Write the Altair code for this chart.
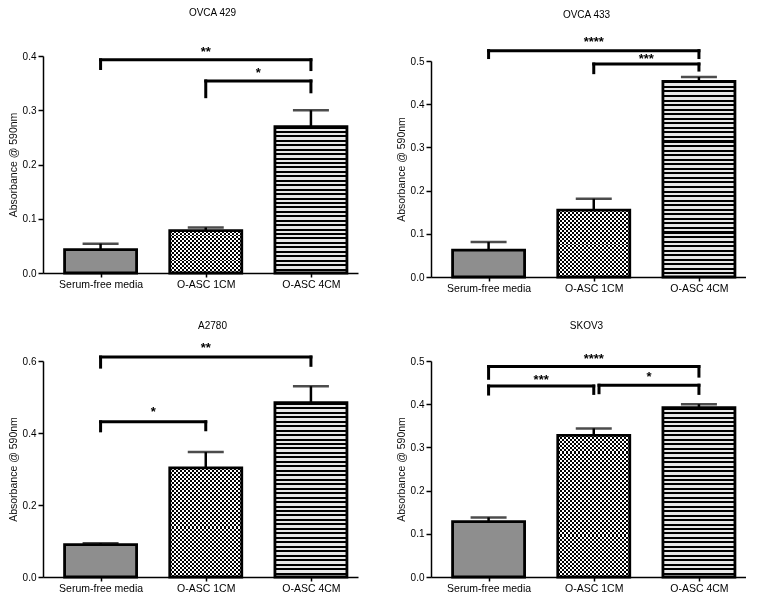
import json
import altair as alt
import pandas as pd

categories = ["Serum-free media", "O-ASC 1CM", "O-ASC 4CM"]
cat_index = [0, 1, 2]

panel_titles = ["OVCA 429", "OVCA 433", "A2780", "SKOV3"]

ovca429_mean = [0.043, 0.078, 0.270]
ovca429_sem = [0.011, 0.006, 0.030]
ovca433_mean = [0.062, 0.155, 0.453]
ovca433_sem = [0.019, 0.026, 0.010]
a2780_mean = [0.090, 0.303, 0.484]
a2780_sem = [0.004, 0.044, 0.046]
skov3_mean = [0.128, 0.328, 0.392]
skov3_sem = [0.010, 0.016, 0.008]

y_max = [0.4, 0.5, 0.6, 0.5]
y_ticks = [
    [0.0, 0.1, 0.2, 0.3, 0.4],
    [0.0, 0.1, 0.2, 0.3, 0.4, 0.5],
    [0.0, 0.2, 0.4, 0.6],
    [0.0, 0.1, 0.2, 0.3, 0.4, 0.5],
]

# significance brackets: from group, to group, bracket level, left foot, right foot, stars, star level
ovca429_brackets = [
    (0, 2, 0.393, 0.377, 0.375, "**", 0.411),
    (1, 2, 0.354, 0.325, 0.334, "*", 0.372),
]
ovca433_brackets = [
    (0, 2, 0.524, 0.508, 0.508, "****", 0.549),
    (1, 2, 0.493, 0.473, 0.479, "***", 0.510),
]
a2780_brackets = [
    (0, 2, 0.611, 0.583, 0.588, "**", 0.641),
    (0, 1, 0.431, 0.406, 0.409, "*", 0.465),
]
skov3_brackets = [
    (0, 2, 0.487, 0.460, 0.465, "****", 0.510),
    (0, 1, 0.442, 0.4235, 0.425, "***", 0.460),
    (1.05, 2, 0.444, 0.4266, 0.425, "*", 0.4675),
]

FONT = "Liberation Sans"
BAR_W = 72
label_expr = json.dumps(categories) + "[datum.value]"


def stripes(length_px, period, dark_frac, dark, light, along_y=True):
    n = max(1, round(length_px / period))
    stops = []
    for k in range(n):
        a = k / n
        b = (k + dark_frac) / n
        c = (k + 1) / n
        stops += [
            alt.GradientStop(offset=a, color=dark),
            alt.GradientStop(offset=b, color=dark),
            alt.GradientStop(offset=b, color=light),
            alt.GradientStop(offset=min(c, 1.0), color=light),
        ]
    if along_y:
        return alt.LinearGradient(gradient="linear", stops=stops, x1=0, x2=0, y1=0, y2=1)
    return alt.LinearGradient(gradient="linear", stops=stops, x1=0, x2=1, y1=0, y2=0)


def panel(title, means, sems, brackets, ymax, ticks, height, yrange, t_offset, t_dx):
    df = pd.DataFrame({
        "cat": categories,
        "idx": cat_index,
        "mean": means,
        "top": [m + s for m, s in zip(means, sems)],
    })
    bdf = pd.DataFrame(brackets, columns=["x1", "x2", "level", "foot1", "foot2", "label", "label_y"])

    span = (yrange[0] - yrange[1]) if yrange else height
    if yrange:
        yscale = alt.Scale(domain=[0, ymax], nice=False, zero=True, range=yrange)
    else:
        yscale = alt.Scale(domain=[0, ymax], nice=False, zero=True)
    xscale = alt.Scale(domain=[-0.5, 2.4], nice=False, zero=False)
    xaxis = alt.Axis(values=cat_index, labelExpr=label_expr, title=None, labelAngle=0,
                     labelFlush=False, labelOverlap=False, tickSize=4, labelPadding=2,
                     labelFontSize=10.5, grid=False)
    yaxis = alt.Axis(values=ticks, format=".1f", title="Absorbance @ 590nm", grid=False,
                     tickSize=5, labelPadding=2, titlePadding=4,
                     titleFontWeight="normal", titleFont=FONT, titleFontSize=10.5, titleColor="#111111")

    def X(f):
        return alt.X(f, type="quantitative", scale=xscale, axis=xaxis)

    def Y(f):
        return alt.Y(f, type="quantitative", scale=yscale, axis=yaxis)

    base = alt.Chart(df)

    h1 = means[1] / ymax * span
    h2 = means[2] / ymax * span

    serum = base.transform_filter(alt.datum.idx == 0).mark_bar(
        orient="vertical", size=BAR_W, fill="#8e8e8e").encode(x=X("idx"), y=Y("mean"))
    cm1_base = base.transform_filter(alt.datum.idx == 1).mark_bar(
        orient="vertical", size=BAR_W,
        fill=stripes(BAR_W, 4, 0.5, "#000000", "#ffffff", along_y=False)).encode(x=X("idx"), y=Y("mean"))
    cm1_over = base.transform_filter(alt.datum.idx == 1).mark_bar(
        orient="vertical", size=BAR_W, blend="difference",
        fill=stripes(h1, 4, 0.5, "#000000", "#ffffff", along_y=True)).encode(x=X("idx"), y=Y("mean"))
    cm4 = base.transform_filter(alt.datum.idx == 2).mark_bar(
        orient="vertical", size=BAR_W,
        fill=stripes(h2, 4.5, 0.45, "#000000", "#e8e8e8", along_y=True)).encode(x=X("idx"), y=Y("mean"))
    outline = base.mark_bar(orient="vertical", size=BAR_W, fillOpacity=0,
                            stroke="black", strokeWidth=2.8).encode(x=X("idx"), y=Y("mean"))
    err = base.mark_rule(color="black", strokeWidth=2.5).encode(x=X("idx"), y=Y("mean"), y2="top:Q")
    cap = base.mark_tick(orient="horizontal", size=36, thickness=2.5, color="black").encode(
        x=X("idx"), y=Y("top"))

    bb = alt.Chart(bdf)
    hline = bb.mark_rule(color="black", strokeWidth=3, strokeCap="square").encode(
        x=X("x1"), x2="x2:Q", y=Y("level"))
    leg1 = bb.mark_rule(color="black", strokeWidth=3, strokeCap="square").encode(
        x=X("x1"), y=Y("level"), y2="foot1:Q")
    leg2 = bb.mark_rule(color="black", strokeWidth=3, strokeCap="square").encode(
        x=X("x2"), y=Y("level"), y2="foot2:Q")
    stars = bb.transform_calculate(mid="(datum.x1 + datum.x2) / 2").mark_text(
        font=FONT, fontSize=13, fontWeight="bold", baseline="alphabetic", dy=6, color="black").encode(
        x=X("mid"), y=Y("label_y"), text="label:N")

    return alt.layer(serum, cm1_base, cm1_over, cm4, outline, err, cap, hline, leg1, leg2, stars).properties(
        width=315, height=height,
        title=alt.TitleParams(text=title, fontSize=10, fontWeight="normal", font=FONT, color="black",
                              anchor="middle", offset=t_offset, dx=t_dx),
    )


p1 = panel(panel_titles[0], ovca429_mean, ovca429_sem, ovca429_brackets, y_max[0], y_ticks[0],
           212, [212, -5], 28, 12)
p2 = panel(panel_titles[1], ovca433_mean, ovca433_sem, ovca433_brackets, y_max[1], y_ticks[1],
           216, None, 16, -2)
p3 = panel(panel_titles[2], a2780_mean, a2780_sem, a2780_brackets, y_max[2], y_ticks[2],
           216, None, 11, 12)
p4 = panel(panel_titles[3], skov3_mean, skov3_sem, skov3_brackets, y_max[3], y_ticks[3],
           216, None, 22, -2)

chart = alt.vconcat(
    alt.hconcat(p1, p2, spacing=38),
    alt.hconcat(p3, p4, spacing=38),
    spacing=26,
).properties(padding=0, background="white").configure_view(
    strokeWidth=0, stroke="transparent"
).configure_axis(
    domainColor="black", domainWidth=1.5, tickColor="black", tickWidth=1.5,
    labelColor="black", labelFont=FONT, labelFontSize=10,
    titleColor="#111111", titleFont=FONT, titleFontSize=10.5, titleFontWeight="normal",
)

chart.save("out.html", embed_options={"renderer": "svg", "actions": False})
